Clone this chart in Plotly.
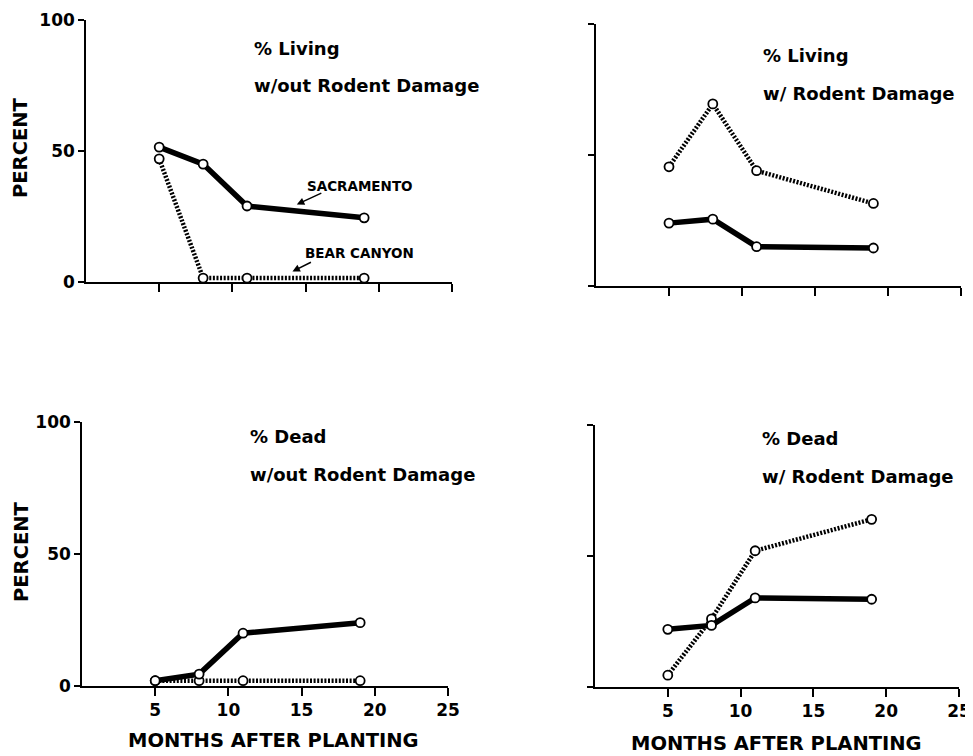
import plotly.graph_objects as go
from plotly.subplots import make_subplots

months = [5, 8, 11, 19]
# % Living w/out rodent damage
liv_wo_sac = [51.5, 45, 29, 24.5]
liv_wo_bear = [47, 1.5, 1.5, 1.5]
# % Living w/ rodent damage
liv_w_sac = [24, 25.5, 15, 14.5]
liv_w_bear = [45.5, 69.5, 44, 31.5]
# % Dead w/out rodent damage
dead_wo_sac = [2, 4.5, 20, 24]
dead_wo_bear = [2, 2, 2, 2]
# % Dead w/ rodent damage
dead_w_sac = [22, 23.5, 34, 33.5]
dead_w_bear = [4.5, 26, 52, 64]

panels = [
    (liv_wo_sac, liv_wo_bear, ["% Living", "w/out Rodent Damage"]),
    (liv_w_sac, liv_w_bear, ["% Living", "w/ Rodent Damage"]),
    (dead_wo_sac, dead_wo_bear, ["% Dead", "w/out Rodent Damage"]),
    (dead_w_sac, dead_w_bear, ["% Dead", "w/ Rodent Damage"]),
]
xticks = [5, 10, 15, 20, 25]
yticks = [0, 50, 100]

W, H = 973, 756
OFF = 8  # page body margin
FONT = "DejaVu Sans"


def px(x):
    return (x - OFF) / W


def py(y):
    return 1 - (y - OFF) / H


fig = make_subplots(rows=2, cols=2)

# pixel boxes (left, right, top, bottom) for each panel, in window pixels
boxes = [(86, 452, 20, 282), (596, 961, 24, 286), (82, 448, 422, 686), (595, 959, 425, 687)]
pos = [(1, 1), (1, 2), (2, 1), (2, 2)]

marker = dict(symbol="circle", size=9, color="white", line=dict(color="black", width=1.8))

for i, ((sac, bear, title), (r, c), (l, rgt, t, b)) in enumerate(zip(panels, pos, boxes)):
    fig.add_trace(go.Scatter(x=months, y=bear, mode="lines+markers",
                             line=dict(color="black", width=4.5, dash="2px,1.6px"),
                             marker=marker, showlegend=False, cliponaxis=False), row=r, col=c)
    fig.add_trace(go.Scatter(x=months, y=sac, mode="lines+markers",
                             line=dict(color="black", width=5.5),
                             marker=marker, showlegend=False, cliponaxis=False), row=r, col=c)
    xa = "xaxis" if i == 0 else f"xaxis{i+1}"
    ya = "yaxis" if i == 0 else f"yaxis{i+1}"
    bottom_row = r == 2
    left_col = c == 1
    fig.layout[xa].update(domain=[px(l), px(rgt)], range=[0, 25], showgrid=False, zeroline=False,
                          showline=True, linecolor="black", linewidth=1.5, automargin=False,
                          ticks="outside", ticklen=8, tickwidth=1.5, tickcolor="black",
                          tickvals=xticks, ticktext=[str(v) if bottom_row else "" for v in xticks],
                          tickfont=dict(family=FONT, size=17, color="black", weight="bold"))
    fig.layout[ya].update(domain=[py(b), py(t)], range=[0, 100], showgrid=False, zeroline=False,
                          showline=True, linecolor="black", linewidth=1.5, automargin=False,
                          ticks="outside", ticklen=6, tickwidth=1.5, tickcolor="black",
                          tickvals=yticks, ticktext=[str(v) if left_col else "" for v in yticks],
                          tickfont=dict(family=FONT, size=17, color="black", weight="bold"))
    # panel titles
    tx = l + (166 if left_col else 165)
    ty1 = t + (28 if i == 0 else 31 if i == 1 else 14 if i == 2 else 13)
    for k, line in enumerate(title):
        fig.add_annotation(xref="paper", yref="paper", x=px(tx), y=py(ty1 + 38 * k),
                           text=line, showarrow=False, xanchor="left", yanchor="middle",
                           font=dict(family=FONT, size=18, color="black", weight="bold"))

# y axis titles
for cy in [148, 552]:
    fig.add_annotation(xref="paper", yref="paper", x=px(21), y=py(cy), text="PERCENT",
                       textangle=-90, showarrow=False, xanchor="center", yanchor="middle",
                       font=dict(family=FONT, size=19.5, color="black", weight="bold"))
# x axis titles
for cx, cy in [(273, 740), (776, 743)]:
    fig.add_annotation(xref="paper", yref="paper", x=px(cx), y=py(cy), text="MONTHS AFTER PLANTING",
                       showarrow=False, xanchor="center", yanchor="middle",
                       font=dict(family=FONT, size=19.5, color="black", weight="bold"))

# series labels with arrows in top-left panel
fig.add_annotation(xref="x", yref="y", x=18.7, y=36.6, text="SACRAMENTO", showarrow=False,
                   font=dict(family=FONT, size=13.5, color="black", weight="bold"))
fig.add_annotation(xref="x", yref="y", x=18.7, y=11, text="BEAR CANYON", showarrow=False,
                   font=dict(family=FONT, size=13.5, color="black", weight="bold"))
fig.add_annotation(xref="x", yref="y", x=14.4, y=29.6, ax=26, ay=-12, text="", showarrow=True,
                   arrowhead=2, arrowsize=1, arrowwidth=1.5, arrowcolor="black")
fig.add_annotation(xref="x", yref="y", x=14.1, y=4.0, ax=20, ay=-10, text="", showarrow=True,
                   arrowhead=2, arrowsize=1, arrowwidth=1.5, arrowcolor="black")

fig.update_layout(width=W, height=H, margin=dict(l=0, r=0, t=0, b=0, pad=0, autoexpand=False),
                  plot_bgcolor="white", paper_bgcolor="white", showlegend=False)

fig.write_html("out.html")
